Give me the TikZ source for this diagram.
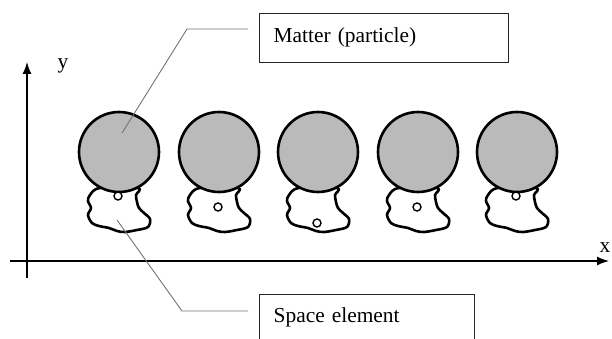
\documentclass[tikz,border=0pt]{standalone}
\usepackage{fontspec}
\setmainfont{Liberation Serif}
\usetikzlibrary{arrows.meta}
\tikzstyle{particle} = [circle, minimum size=80pt, inner sep=0pt, draw=black, line width=2.6pt, fill=black!27]
\tikzstyle{hole} = [circle, minimum size=8pt, inner sep=0pt, draw=black, line width=1.4pt, fill=white]
\tikzstyle{blob} = [draw=black, line width=2.6pt, fill=white, line join=round]
\tikzstyle{axis} = [line width=1.3pt, -{Latex[length=12pt, width=9pt]}]
\tikzstyle{leader} = [draw=black!55, line width=0.9pt]
\tikzstyle{callout} = [rectangle, draw=black!85, line width=1.3pt, anchor=north west, inner xsep=14pt, inner ysep=0pt, align=left, font=\fontsize{21.4}{25}\selectfont]
\tikzstyle{axlabel} = [font=\fontsize{21.4}{25}\selectfont, inner sep=0pt]

\begin{document}
\begin{tikzpicture}[x=1pt, y=-1pt]
	\useasboundingbox (0,0) rectangle (612,339);
	% axes
	\coordinate (ybot) at (27,278);
	\coordinate (ytop) at (27,62);
	\coordinate (xleft) at (10,261);
	\coordinate (xright) at (609,261);
	\draw [axis] (ybot) -- (ytop);
	\draw [axis] (xleft) -- (xright);
	\node (ylab) [axlabel] at (63,66) {y};
	\node (xlab) [axlabel] at (605,248) {x};

	% space elements with particles on top
	\foreach \i/\x/\hy in {1/119/196, 2/219/207, 3/318/223, 4/418/207, 5/517/196}{
		\begin{scope}[shift={(\x,152)}]
			\draw [blob] plot [smooth cycle, tension=0.55] coordinates {(-19,36) (-29,43) (-31,49) (-28,56) (-31,63) (-27,71) (-20,74) (-10,76) (-2,79) (6,80) (18,78) (29,75) (31,67) (25,61) (20,56) (18,50) (17,43) (19,36)};
		\end{scope}
		\node (p\i) [particle] at (\x,152) {};
		\node (h\i) [hole] at (\x-1,\hy) {};
	}

	% callouts
	\node (matter) [callout, text width=221pt, text height=29pt, text depth=20pt] at (259,13) {Matter (particle)};
	\node (space) [callout, text width=187pt, text height=28pt, text depth=32pt] at (259,294) {Space element};

	\coordinate (mtip) at (122,133);
	\coordinate (mbend) at (187,29);
	\coordinate (mend) at (248,29);
	\draw [leader] (mtip) -- (mbend) -- (mend);
	\coordinate (stip) at (117,220);
	\coordinate (sbend) at (182,311);
	\coordinate (send) at (248,311);
	\draw [leader] (stip) -- (sbend) -- (send);
\end{tikzpicture}
\end{document}
